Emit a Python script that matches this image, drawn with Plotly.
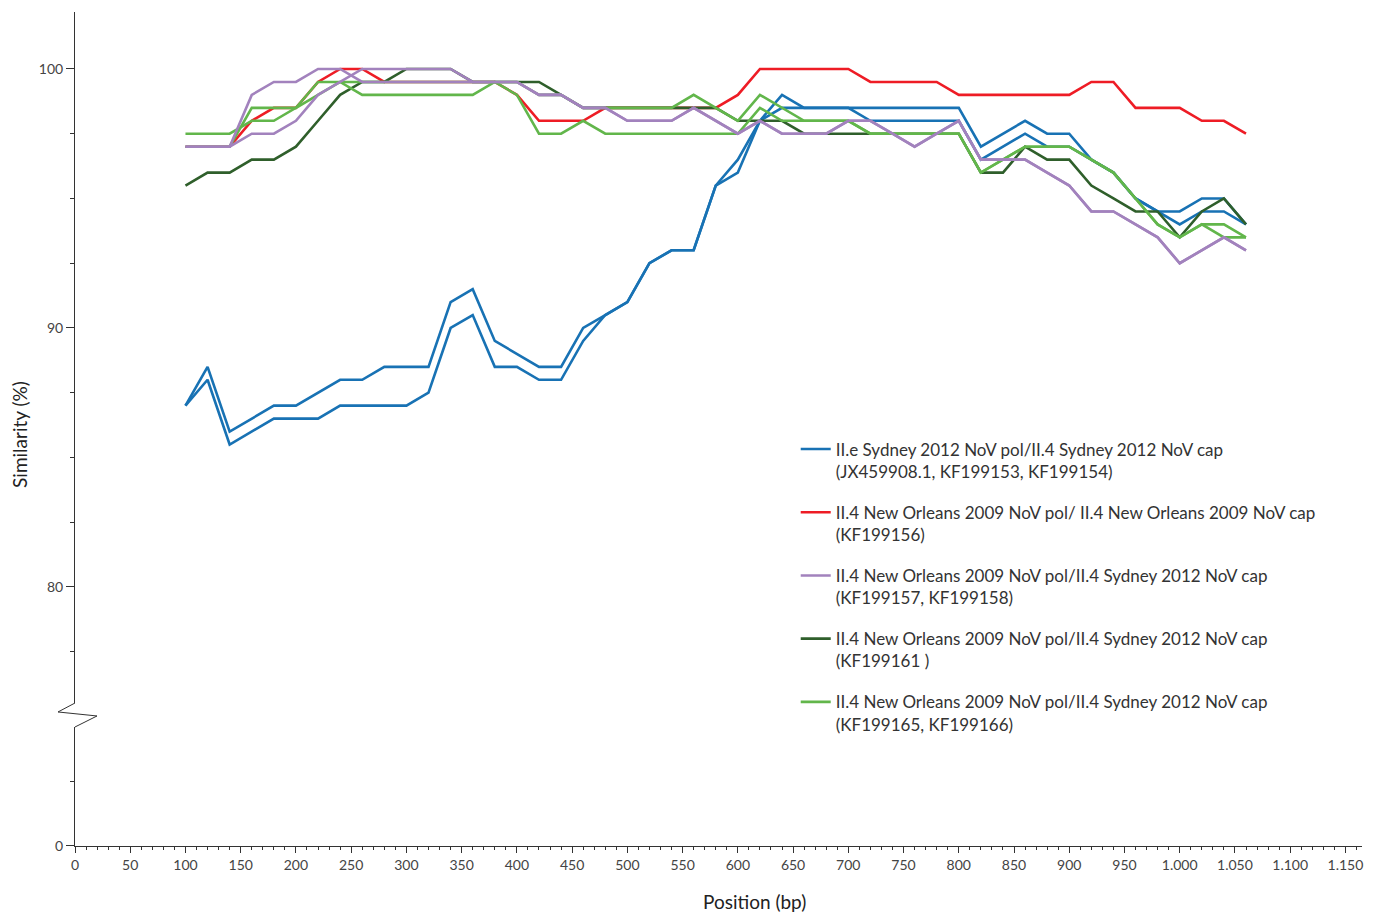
import plotly.graph_objects as go

# Alignment window positions (bp)
positions = [100, 120, 140, 160, 180, 200, 220, 240, 260, 280,
             300, 320, 340, 360, 380, 400, 420, 440, 460, 480,
             500, 520, 540, 560, 580, 600, 620, 640, 660, 680,
             700, 720, 740, 760, 780, 800, 820, 840, 860, 880,
             900, 920, 940, 960, 980, 1000, 1020, 1040, 1060]

# II.e Sydney 2012 pol / II.4 Sydney 2012 cap (two sequences)
sydney_a = [87, 88.5, 86, 86.5, 87, 87, 87.5, 88, 88, 88.5,
            88.5, 88.5, 91, 91.5, 89.5, 89, 88.5, 88.5, 90, 90.5,
            91, 92.5, 93, 93, 95.5, 96.5, 98, 99, 98.5, 98.5,
            98.5, 98.5, 98.5, 98.5, 98.5, 98.5, 97, 97.5, 98, 97.5,
            97.5, 96.5, 96, 95, 94.5, 94.5, 95, 95, 94]
sydney_b = [87, 88, 85.5, 86, 86.5, 86.5, 86.5, 87, 87, 87,
            87, 87.5, 90, 90.5, 88.5, 88.5, 88, 88, 89.5, 90.5,
            91, 92.5, 93, 93, 95.5, 96, 98, 98.5, 98.5, 98.5,
            98.5, 98, 98, 98, 98, 98, 96.5, 97, 97.5, 97,
            97, 96.5, 96, 95, 94.5, 94, 94.5, 94.5, 94]

# II.4 New Orleans 2009 pol / II.4 New Orleans 2009 cap
new_orleans = [97, 97, 97, 98, 98.5, 98.5, 99.5, 100, 100, 99.5,
               99.5, 99.5, 99.5, 99.5, 99.5, 99, 98, 98, 98, 98.5,
               98.5, 98.5, 98.5, 98.5, 98.5, 99, 100, 100, 100, 100,
               100, 99.5, 99.5, 99.5, 99.5, 99, 99, 99, 99, 99,
               99, 99.5, 99.5, 98.5, 98.5, 98.5, 98, 98, 97.5]

# II.4 New Orleans 2009 pol / II.4 Sydney 2012 cap recombinants
kf199157 = [97, 97, 97, 99, 99.5, 99.5, 100, 100, 99.5, 99.5,
            99.5, 99.5, 99.5, 99.5, 99.5, 99.5, 99, 99, 98.5, 98.5,
            98, 98, 98, 98.5, 98, 97.5, 98, 97.5, 97.5, 97.5,
            98, 98, 97.5, 97, 97.5, 98, 96.5, 96.5, 96.5, 96,
            95.5, 94.5, 94.5, 94, 93.5, 92.5, 93, 93.5, 93]
kf199158 = [97, 97, 97, 97.5, 97.5, 98, 99, 99.5, 100, 100,
            100, 100, 100, 99.5, 99.5, 99.5, 99, 99, 98.5, 98.5,
            98, 98, 98, 98.5, 98, 97.5, 98, 97.5, 97.5, 97.5,
            98, 98, 97.5, 97, 97.5, 98, 96.5, 96.5, 96.5, 96,
            95.5, 94.5, 94.5, 94, 93.5, 92.5, 93, 93.5, 93]
kf199161 = [95.5, 96, 96, 96.5, 96.5, 97, 98, 99, 99.5, 99.5,
            100, 100, 100, 99.5, 99.5, 99.5, 99.5, 99, 98.5, 98.5,
            98.5, 98.5, 98.5, 98.5, 98.5, 98, 98, 98, 97.5, 97.5,
            97.5, 97.5, 97.5, 97.5, 97.5, 97.5, 96, 96, 97, 96.5,
            96.5, 95.5, 95, 94.5, 94.5, 93.5, 94.5, 95, 94]
kf199165 = [97.5, 97.5, 97.5, 98, 98, 98.5, 99.5, 99.5, 99, 99,
            99, 99, 99, 99, 99.5, 99, 97.5, 97.5, 98, 97.5,
            97.5, 97.5, 97.5, 97.5, 97.5, 97.5, 98.5, 98, 98, 98,
            98, 97.5, 97.5, 97.5, 97.5, 97.5, 96, 96.5, 97, 97,
            97, 96.5, 96, 95, 94, 93.5, 94, 94, 93.5]
kf199166 = [97, 97, 97, 98.5, 98.5, 98.5, 99, 99.5, 99.5, 99.5,
            99.5, 99.5, 99.5, 99.5, 99.5, 99.5, 99, 99, 98.5, 98.5,
            98.5, 98.5, 98.5, 99, 98.5, 98, 99, 98.5, 98, 98,
            98, 97.5, 97.5, 97.5, 97.5, 97.5, 96, 96.5, 97, 97,
            97, 96.5, 96, 95, 94, 93.5, 94, 93.5, 93.5]

legend_names = [
    "II.e Sydney 2012 NoV pol/II.4 Sydney 2012 NoV cap<br>(JX459908.1, KF199153, KF199154)",
    "II.4 New Orleans 2009 NoV pol/ II.4 New Orleans 2009 NoV cap<br>(KF199156)",
    "II.4 New Orleans 2009 NoV pol/II.4 Sydney 2012 NoV cap<br>(KF199157, KF199158)",
    "II.4 New Orleans 2009 NoV pol/II.4 Sydney 2012 NoV cap<br>(KF199161 )",
    "II.4 New Orleans 2009 NoV pol/II.4 Sydney 2012 NoV cap<br>(KF199165, KF199166)",
]

BLUE = "#1872b4"
RED = "#ee1c25"
PURPLE = "#a282bd"
DKGREEN = "#2f5f2b"
GREEN = "#62b64b"

# (values, colour, legend index, show in legend) in drawing order
series = [
    (sydney_a, BLUE, 0, True),
    (sydney_b, BLUE, 0, False),
    (new_orleans, RED, 1, True),
    (kf199161, DKGREEN, 3, True),
    (kf199165, GREEN, 4, True),
    (kf199166, GREEN, 4, False),
    (kf199157, PURPLE, 2, True),
    (kf199158, PURPLE, 2, False),
]

fig = go.Figure()

# empty trace so the lower (0 – break) panel and its x axis are laid out
fig.add_trace(go.Scatter(x=[], y=[], xaxis="x", yaxis="y",
                         showlegend=False, hoverinfo="skip"))

for vals, col, idx, show in series:
    fig.add_trace(go.Scatter(
        x=positions, y=vals, mode="lines",
        line=dict(color=col, width=2.6),
        name=legend_names[idx], legendgroup=f"g{idx}",
        legendrank=idx + 1, showlegend=show,
        xaxis="x2", yaxis="y2",
    ))

tick_font = dict(family="Lato", size=14, color="#444444")
axis_col = "#333333"

upper_bottom = 0.17146   # upper panel starts just above the axis break
lower_top = 0.14269      # lower panel (0 – ~4.6) ends just below the break

fig.update_layout(
    width=1386, height=913,
    margin=dict(l=75, r=24, t=12, b=67),
    paper_bgcolor="white", plot_bgcolor="white",
    separators=",.",
    showlegend=True,
    legend=dict(
        x=0.560, y=0.497, xanchor="left", yanchor="top",
        font=dict(family="Lato", size=17, color="#333333"),
        valign="top", tracegroupgap=16,
        bgcolor="rgba(0,0,0,0)",
    ),
    xaxis=dict(
        anchor="y", range=[0, 1165], showline=True, linecolor=axis_col,
        linewidth=1, showgrid=False, zeroline=False,
        tickmode="linear", tick0=0, dtick=50, tickformat=",d",
        ticks="outside", ticklen=6, tickcolor=axis_col, tickfont=tick_font,
        minor=dict(dtick=10, tick0=0, ticks="outside", ticklen=3,
                   tickcolor=axis_col, showgrid=False),
    ),
    xaxis2=dict(
        anchor="y2", matches="x", range=[0, 1165], visible=False,
        showgrid=False, zeroline=False,
    ),
    yaxis=dict(
        domain=[0, lower_top], range=[0, 4.59], anchor="x",
        showline=True, linecolor=axis_col, linewidth=1,
        showgrid=False, zeroline=False,
        tickmode="array", tickvals=[0], ticks="outside", ticklen=8,
        tickcolor=axis_col, tickfont=tick_font,
        minor=dict(dtick=2.5, tick0=0, ticks="outside", ticklen=4,
                   tickcolor=axis_col, showgrid=False),
    ),
    yaxis2=dict(
        domain=[upper_bottom, 1], range=[75.52, 102.2], anchor="x2",
        showline=True, linecolor=axis_col, linewidth=1,
        showgrid=False, zeroline=False,
        tickmode="linear", tick0=0, dtick=10, ticks="outside", ticklen=8,
        tickcolor=axis_col, tickfont=tick_font,
        minor=dict(dtick=2.5, tick0=0, ticks="outside", ticklen=4,
                   tickcolor=axis_col, showgrid=False),
    ),
)

# zig-zag marking the break in the similarity axis
fig.add_shape(
    type="path", xref="paper", yref="paper",
    path=f"M 0,{upper_bottom} L -0.0132,0.1607 L 0.0171,0.1559 L 0,{lower_top}",
    line=dict(color=axis_col, width=1),
)

fig.add_annotation(
    text="Position (bp)", xref="paper", yref="paper",
    x=0.528, y=-0.067, xanchor="center", yanchor="middle",
    showarrow=False, font=dict(family="Lato", size=19, color="#222222"),
)
fig.add_annotation(
    text="Similarity (%)", xref="paper", yref="paper",
    x=-0.0427, y=0.493, xanchor="center", yanchor="middle",
    textangle=-90, showarrow=False,
    font=dict(family="Lato", size=19, color="#222222"),
)

fig.write_html("out.html")
